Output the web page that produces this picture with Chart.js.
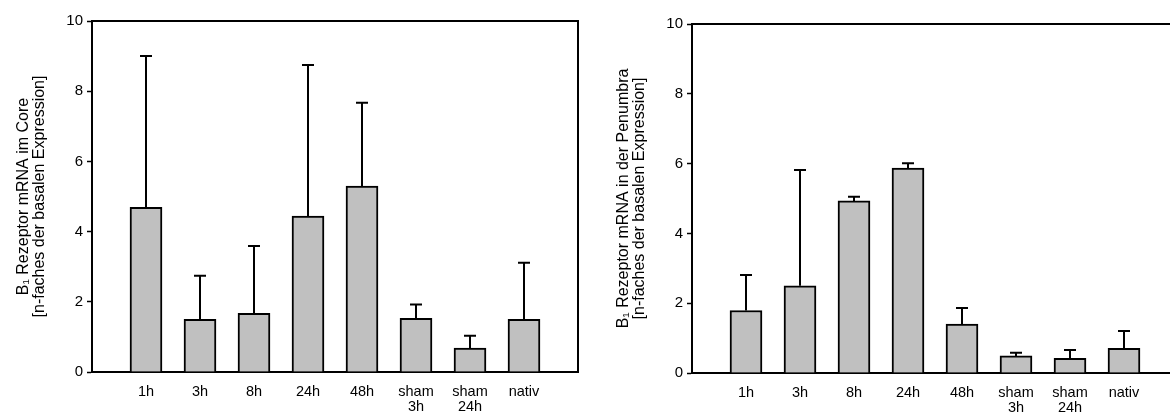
<!DOCTYPE html>
<html lang="de">
<head>
    <meta charset="UTF-8">
    <title>B1 Rezeptor mRNA</title>
    <script src="https://cdn.jsdelivr.net/npm/chart.js"></script>
    <style>
        body {
            margin: 0;
            width: 1170px;
            height: 412px;
            overflow: hidden;
            position: relative;
            background: #fff;
        }
        .box {
            position: absolute;
            top: 0;
        }
    </style>
</head>
<body>
    <div class="box" style="left:0"><canvas id="chartCore" width="590" height="412"></canvas></div>
    <div class="box" style="left:600px"><canvas id="chartPenumbra" width="590" height="412"></canvas></div>

    <script>
        // Gruppen (x-Achse)
        const categories = ["1h", "3h", "8h", "24h", "48h", ["sham", "3h"], ["sham", "24h"], "nativ"];

        // Core: Mittelwert und Standardabweichung (nur nach oben gezeichnet)
        const coreMean = [4.69, 1.50, 1.67, 4.44, 5.30, 1.53, 0.68, 1.50];
        const coreSD = [4.31, 1.24, 1.92, 4.31, 2.37, 0.39, 0.35, 1.61];

        // Penumbra
        const penumbraMean = [1.79, 2.50, 4.93, 5.87, 1.40, 0.49, 0.42, 0.71];
        const penumbraSD = [1.02, 3.32, 0.12, 0.14, 0.46, 0.09, 0.24, 0.49];

        // y-Achse
        const yMin = 0;
        const yMax = 10;
        const yStep = 2;

        const fontFamily = '"Liberation Sans", Arial, sans-serif';

        // leere Plätze links und rechts, damit die Balken wie im Original sitzen
        const labels = [""].concat(categories, [""]);
        const pad = arr => [null].concat(arr, [null]);

        // Fehlerbalken nach oben
        const errorBars = {
            id: "errorBars",
            afterDatasetsDraw(chart, args, opts) {
                const meta = chart.getDatasetMeta(0);
                const yScale = chart.scales.y;
                const data = chart.data.datasets[0].data;
                const ctx = chart.ctx;
                ctx.save();
                ctx.strokeStyle = "#000";
                ctx.lineWidth = 2;
                meta.data.forEach((bar, i) => {
                    const v = data[i];
                    const sd = opts.sd[i];
                    if (v == null || sd == null) return;
                    const yTop = yScale.getPixelForValue(v + sd);
                    ctx.beginPath();
                    ctx.moveTo(bar.x, bar.y);
                    ctx.lineTo(bar.x, yTop);
                    ctx.moveTo(bar.x - 6, yTop);
                    ctx.lineTo(bar.x + 6, yTop);
                    ctx.stroke();
                });
                ctx.restore();
            }
        };

        // Rahmen oben und rechts
        const frame = {
            id: "frame",
            afterDraw(chart) {
                const a = chart.chartArea;
                const ctx = chart.ctx;
                ctx.save();
                ctx.strokeStyle = "#000";
                ctx.lineWidth = 2;
                ctx.beginPath();
                ctx.moveTo(a.left, a.top);
                ctx.lineTo(a.right, a.top);
                ctx.lineTo(a.right, a.bottom);
                ctx.stroke();
                ctx.restore();
            }
        };

        function makeChart(id, mean, sd, title, topPad, xHeight) {
            return new Chart(document.getElementById(id), {
                type: "bar",
                data: {
                    labels: labels,
                    datasets: [{
                        data: pad(mean),
                        backgroundColor: "#c0c0c0",
                        borderColor: "#000",
                        borderWidth: 2,
                        barThickness: 32
                    }]
                },
                plugins: [errorBars, frame],
                options: {
                    responsive: false,
                    animation: false,
                    layout: {
                        padding: { top: topPad, right: 12, bottom: 0, left: 0 }
                    },
                    plugins: {
                        legend: { display: false },
                        tooltip: { enabled: false },
                        errorBars: { sd: pad(sd) }
                    },
                    scales: {
                        x: {
                            offset: false,
                            grid: { display: false, drawTicks: false },
                            border: { display: true, color: "#000", width: 2 },
                            ticks: {
                                autoSkip: false,
                                maxRotation: 0,
                                padding: 12,
                                color: "#000",
                                font: { family: fontFamily, size: 14.5, lineHeight: 1.05 }
                            },
                            afterFit: s => { s.height = xHeight; }
                        },
                        y: {
                            min: yMin,
                            max: yMax,
                            grid: {
                                drawOnChartArea: false,
                                drawTicks: true,
                                tickLength: 5,
                                tickWidth: 1.5,
                                color: "#000"
                            },
                            border: { display: true, color: "#000", width: 2 },
                            ticks: {
                                stepSize: yStep,
                                padding: 4,
                                color: "#000",
                                font: { family: fontFamily, size: 15 }
                            },
                            title: {
                                display: true,
                                text: title,
                                color: "#000",
                                padding: { top: 16, bottom: 0 },
                                font: { family: fontFamily, size: 16, lineHeight: "16px" }
                            },
                            afterFit: s => { s.width = 92; }
                        }
                    }
                }
            });
        }

        makeChart("chartCore", coreMean, coreSD,
            ["B\u2081 Rezeptor mRNA im Core", "[n-faches der basalen Expression]"], 21, 40);
        makeChart("chartPenumbra", penumbraMean, penumbraSD,
            ["B\u2081 Rezeptor mRNA in der Penumbra", "[n-faches der basalen Expression]"], 24, 39);
    </script>
</body>
</html>
